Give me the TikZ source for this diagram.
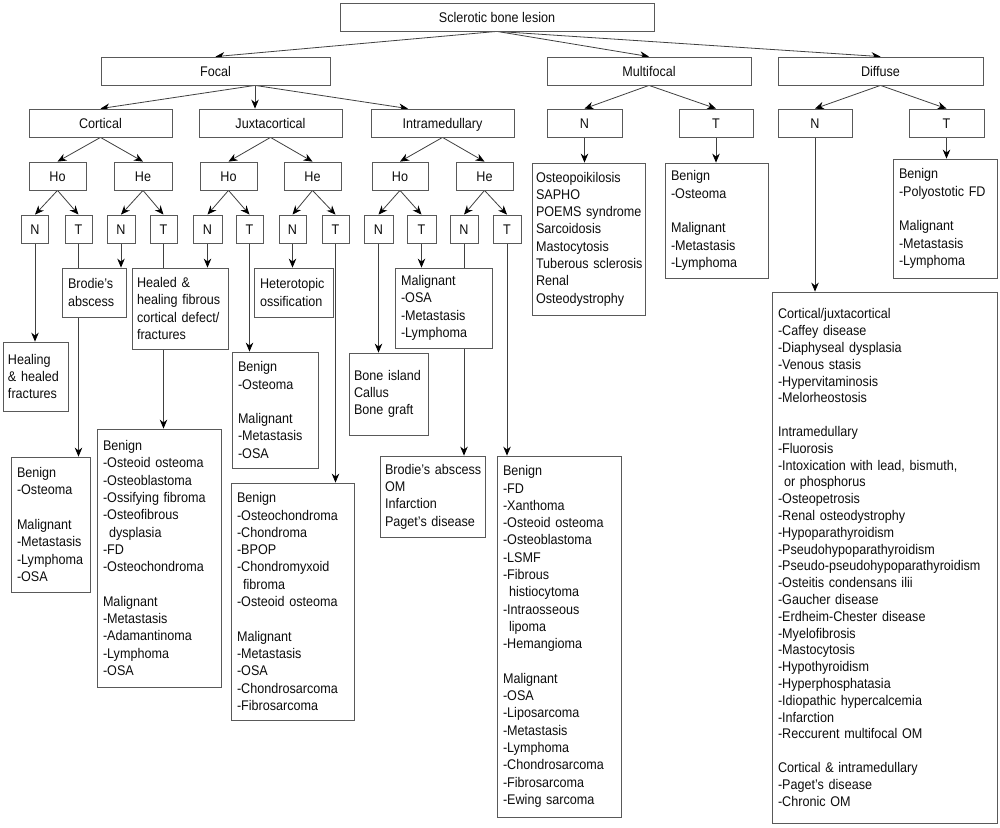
\documentclass[tikz,border=0pt]{standalone}
\usepackage{fontspec}
\setmainfont{Liberation Sans}[FakeStretch=0.9]
\usetikzlibrary{arrows.meta}
\pgfdeclarelayer{bg}
\pgfsetlayers{bg,main}
\hyphenpenalty=10000
\exhyphenpenalty=10000
\begin{document}
\begin{tikzpicture}[x=1pt,y=-1pt,
  every node/.style={font=\fontsize{14}{17.3}\selectfont, text=black!95},
  boxed/.style={draw=black!65, line width=0.8pt, fill=white, inner sep=0pt},
  hdr/.style={boxed, text height=10pt, text depth=0pt},
  leaf/.style={boxed, align=left},
  conn/.style={draw=black!75, line width=0.8pt, -{Stealth[length=9pt,width=7.5pt,color=black]}}]
\useasboundingbox (0,0) rectangle (1000,827);
% level 0-1
\node[hdr, minimum width=314pt, minimum height=28pt] (root) at (497,17) {Sclerotic bone lesion};
\node[hdr, minimum width=229pt, minimum height=28pt] (focal) at (215.5,71) {Focal};
\node[hdr, minimum width=204pt, minimum height=28pt] (multi) at (649,71) {Multifocal};
\node[hdr, minimum width=205pt, minimum height=28pt] (diffuse) at (880.5,71) {Diffuse};
% level 2
\node[hdr, minimum width=143pt, minimum height=28pt] (cort) at (100.5,123) {Cortical};
\node[hdr, minimum width=143pt, minimum height=28pt] (juxta) at (270.5,123) {Juxtacortical};
\node[hdr, minimum width=143pt, minimum height=28pt] (intra) at (442.5,123) {Intramedullary};
\node[hdr, minimum width=75pt, minimum height=28pt] (mN) at (584.5,123) {N};
\node[hdr, minimum width=74pt, minimum height=28pt] (mT) at (716,123) {T};
\node[hdr, minimum width=74pt, minimum height=28pt] (dN) at (815,123) {N};
\node[hdr, minimum width=75pt, minimum height=28pt] (dT) at (946.5,123) {T};
% level 3 Ho/He
\node[hdr, minimum width=57pt, minimum height=28pt] (cHo) at (57.5,176) {Ho};
\node[hdr, minimum width=58pt, minimum height=28pt] (cHe) at (143,176) {He};
\node[hdr, minimum width=57pt, minimum height=28pt] (jHo) at (228.5,176) {Ho};
\node[hdr, minimum width=57pt, minimum height=28pt] (jHe) at (312.5,176) {He};
\node[hdr, minimum width=56pt, minimum height=28pt] (iHo) at (400,176) {Ho};
\node[hdr, minimum width=57pt, minimum height=28pt] (iHe) at (484.5,176) {He};
% level 4 N/T
\node[hdr, minimum width=27pt, minimum height=28pt] (cHoN) at (35,229) {N};
\node[hdr, minimum width=27pt, minimum height=28pt] (cHoT) at (78.5,229) {T};
\node[hdr, minimum width=28pt, minimum height=28pt] (cHeN) at (121,229) {N};
\node[hdr, minimum width=27pt, minimum height=28pt] (cHeT) at (163.5,229) {T};
\node[hdr, minimum width=29pt, minimum height=28pt] (jHoN) at (207.5,229) {N};
\node[hdr, minimum width=27pt, minimum height=28pt] (jHoT) at (249.5,229) {T};
\node[hdr, minimum width=27pt, minimum height=28pt] (jHeN) at (292.5,229) {N};
\node[hdr, minimum width=27pt, minimum height=28pt] (jHeT) at (335.5,229) {T};
\node[hdr, minimum width=29pt, minimum height=28pt] (iHoN) at (378.5,229) {N};
\node[hdr, minimum width=29pt, minimum height=28pt] (iHoT) at (421.5,229) {T};
\node[hdr, minimum width=28pt, minimum height=28pt] (iHeN) at (464,229) {N};
\node[hdr, minimum width=28pt, minimum height=28pt] (iHeT) at (507,229) {T};
% leaves
\node[leaf, minimum width=65pt, minimum height=69pt, text width=55pt] (L1) at (35.5,376.5)
  {Healing\\\&~healed\\fractures};
\node[leaf, minimum width=79pt, minimum height=135pt, text width=67pt] (L2) at (50.5,524.5)
  {Benign\\-Osteoma\\[17.3pt]Malignant\\-Metastasis\\-Lymphoma\\-OSA};
\node[leaf, minimum width=64pt, minimum height=49pt, text width=52pt] (L3) at (94,292.5)
  {Brodie's\\abscess};
\node[leaf, minimum width=124pt, minimum height=258pt, text width=112pt] (L4) at (159,558)
  {Benign\\-Osteoid~osteoma\\-Osteoblastoma\\-Ossifying~fibroma\\-Osteofibrous\\\hspace*{6pt}dysplasia\\-FD\\-Osteochondroma\\[17.3pt]Malignant\\-Metastasis\\-Adamantinoma\\-Lymphoma\\-OSA};
\node[leaf, minimum width=96pt, minimum height=81pt, text width=86pt] (L5) at (180,308.5)
  {Healed~\&\\healing~fibrous\\cortical~defect/\\fractures};
\node[leaf, minimum width=86pt, minimum height=116pt, text width=74pt] (L6) at (275,410)
  {Benign\\-Osteoma\\[17.3pt]Malignant\\-Metastasis\\-OSA};
\node[leaf, minimum width=79pt, minimum height=49pt, text width=67pt] (L7) at (293.5,292.5)
  {Heterotopic\\ossification};
\node[leaf, minimum width=123pt, minimum height=237pt, text width=111pt] (L8) at (292.5,601.5)
  {Benign\\-Osteochondroma\\-Chondroma\\-BPOP\\-Chondromyxoid\\\hspace*{6pt}fibroma\\-Osteoid~osteoma\\[17.3pt]Malignant\\-Metastasis\\-OSA\\-Chondrosarcoma\\-Fibrosarcoma};
\node[leaf, minimum width=79pt, minimum height=82pt, text width=69pt] (L9) at (388.5,394)
  {Bone~island\\Callus\\Bone~graft};
\node[leaf, minimum width=97pt, minimum height=80pt, text width=85pt] (L10) at (443.5,308)
  {Malignant\\-OSA\\-Metastasis\\-Lymphoma};
\node[leaf, minimum width=105pt, minimum height=81pt, text width=95pt] (L11) at (432.5,496.5)
  {Brodie's~abscess\\OM\\Infarction\\Paget's~disease};
\node[leaf, minimum width=124pt, minimum height=361pt, text width=112pt] (L12) at (559,636.5)
  {Benign\\-FD\\-Xanthoma\\-Osteoid~osteoma\\-Osteoblastoma\\-LSMF\\-Fibrous\\\hspace*{6pt}histiocytoma\\-Intraosseous\\\hspace*{6pt}lipoma\\-Hemangioma\\[17.3pt]Malignant\\-OSA\\-Liposarcoma\\-Metastasis\\-Lymphoma\\-Chondrosarcoma\\-Fibrosarcoma\\-Ewing~sarcoma};
\node[leaf, minimum width=113pt, minimum height=152pt, text width=105pt] (L13) at (588.5,239)
  {Osteopoikilosis\\SAPHO\\POEMS~syndrome\\Sarcoidosis\\Mastocytosis\\Tuberous~sclerosis\\Renal\\Osteodystrophy};
\node[leaf, minimum width=103pt, minimum height=115pt, text width=91pt] (L14) at (716.5,220.5)
  {Benign\\-Osteoma\\[17.3pt]Malignant\\-Metastasis\\-Lymphoma};
\node[leaf, minimum width=104pt, minimum height=119pt, text width=92pt] (L15) at (945,218.5)
  {Benign\\-Polyostotic~FD\\[17.3pt]Malignant\\-Metastasis\\-Lymphoma};
\node[leaf, minimum width=225pt, minimum height=531pt, text width=213pt, font=\fontsize{14}{16.8}\selectfont] (L16) at (884.5,557.5)
  {Cortical/juxtacortical\\-Caffey~disease\\-Diaphyseal~dysplasia\\-Venous~stasis\\-Hypervitaminosis\\-Melorheostosis\\[16.8pt]Intramedullary\\-Fluorosis\\-Intoxication~with~lead,~bismuth,\\\hspace*{6pt}or~phosphorus\\-Osteopetrosis\\-Renal~osteodystrophy\\-Hypoparathyroidism\\-Pseudohypoparathyroidism\\-Pseudo-pseudohypoparathyroidism\\-Osteitis~condensans~ilii\\-Gaucher~disease\\-Erdheim-Chester~disease\\-Myelofibrosis\\-Mastocytosis\\-Hypothyroidism\\-Hyperphosphatasia\\-Idiopathic~hypercalcemia\\-Infarction\\-Reccurent~multifocal~OM\\[16.8pt]Cortical~\&~intramedullary\\-Paget's~disease\\-Chronic~OM};
% connectors
\begin{pgfonlayer}{bg}
\draw[conn] (root.south) -- (focal.north);
\draw[conn] (root.south) -- (multi.north);
\draw[conn] (root.south) -- (diffuse.north);
\draw[conn] ([xshift=39.5pt]focal.south) -- (cort.north);
\draw[conn] ([xshift=39.5pt]focal.south) -- ([xshift=-15.5pt]juxta.north);
\draw[conn] ([xshift=39.5pt]focal.south) -- ([xshift=-34.5pt]intra.north);
\draw[conn] (multi.south) -- (mN.north);
\draw[conn] (multi.south) -- (mT.north);
\draw[conn] (diffuse.south) -- (dN.north);
\draw[conn] (diffuse.south) -- (dT.north);
\foreach \p in {c,j,i}{
  \draw[conn] (\p Ho.south) -- (\p HoN.north);
  \draw[conn] (\p Ho.south) -- (\p HoT.north);
  \draw[conn] (\p He.south) -- (\p HeN.north);
  \draw[conn] (\p He.south) -- (\p HeT.north);
}
\draw[conn] (cort.south) -- (cHo.north);
\draw[conn] (cort.south) -- (cHe.north);
\draw[conn] (juxta.south) -- (jHo.north);
\draw[conn] (juxta.south) -- (jHe.north);
\draw[conn] (intra.south) -- (iHo.north);
\draw[conn] (intra.south) -- (iHe.north);
\draw[conn] (cHoN.south) -- (cHoN.south |- L1.north);
\draw[conn] (cHoT.south) -- (cHoT.south |- L2.north);
\draw[conn] (cHeN.south) -- (cHeN.south |- L3.north);
\draw[conn] (cHeT.south) -- (cHeT.south |- L4.north);
\draw[conn] (jHoN.south) -- (jHoN.south |- L5.north);
\draw[conn] (jHoT.south) -- (jHoT.south |- L6.north);
\draw[conn] (jHeN.south) -- (jHeN.south |- L7.north);
\draw[conn] (jHeT.south) -- (jHeT.south |- L8.north);
\draw[conn] (iHoN.south) -- (iHoN.south |- L9.north);
\draw[conn] (iHoT.south) -- (iHoT.south |- L10.north);
\draw[conn] (iHeN.south) -- (iHeN.south |- L11.north);
\draw[conn] (iHeT.south) -- (iHeT.south |- L12.north);
\draw[conn] (mN.south) -- (mN.south |- L13.north);
\draw[conn] (mT.south) -- (mT.south |- L14.north);
\draw[conn] (dT.south) -- (dT.south |- L15.north);
\draw[conn] (dN.south) -- (dN.south |- L16.north);
\end{pgfonlayer}
\end{tikzpicture}
\end{document}
